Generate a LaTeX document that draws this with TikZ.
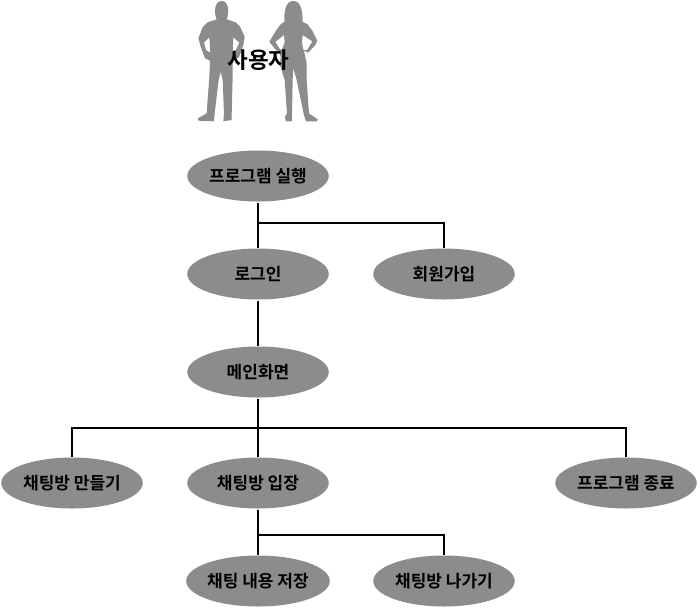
\documentclass[tikz,border=0pt]{standalone}
\usepackage{fontspec}
\setmainfont{Noto Sans CJK KR}[BoldFont={Noto Sans CJK KR Bold}]
\usetikzlibrary{shapes.geometric}
\definecolor{gr}{HTML}{8C8C8C}
\tikzset{
 item/.style={ellipse,fill=gr,draw=none,minimum width=141.5pt,minimum height=51pt,inner sep=0pt,outer sep=1pt,font=\bfseries\fontsize{17}{18}\selectfont,text=black},
 conn/.style={draw=black,line width=1.7pt},
 person/.style={fill=gr,draw=none,even odd rule}
}
\begin{document}
\begin{tikzpicture}[x=1pt,y=-1pt]
\useasboundingbox (0,0) rectangle (698,608);
\begin{scope}[shift={(180,0)},xscale=0.3333,yscale=0.3333]
% man
\fill[person] (110,58) .. controls (102,40) and (102,3) .. (125,3) .. controls (148,3) and (148,40) .. (140,58)
 -- (167,67) -- (180,80) -- (194,110) -- (190,135) -- (177,172) -- (158,180) -- (158,230) -- (155,345) -- (155,360) -- (130,364) -- (132,340) -- (128,240) -- (122,215) -- (116,240) -- (104,340) -- (102,364) -- (54,362) -- (54,355) -- (80,340) -- (88,230) -- (90,182) -- (75,175) -- (62,140) -- (55,115) -- (68,82) -- (83,67) -- cycle
 (88,112) -- (72,128) -- (78,150) -- (91,158) -- cycle
 (160,112) -- (178,128) -- (168,150) -- (158,156) -- cycle;
% woman
\fill[person] (340,3) .. controls (362,3) and (368,30) .. (368,66)
 -- (382,72) -- (397,92) -- (412,122) -- (406,135) -- (385,158) -- (372,152) -- (380,190) -- (380,240) -- (387,340) -- (413,358) -- (411,364) -- (378,364) -- (372,345) -- (350,240) -- (340,205) -- (338,240) -- (336,345) -- (336,364) -- (317,364) -- (315,350) -- (321,340) -- (314,240) -- (300,195) -- (302,170) -- (298,158) -- (286,148) -- (268,125) -- (288,92) -- (303,72) -- (313,66) .. controls (312,30) and (318,3) .. (340,3) -- cycle
 (312,105) -- (286,126) -- (300,148) -- (306,148) -- (314,128) -- cycle
 (368,105) -- (397,124) -- (382,150) -- (370,150) -- (366,128) -- cycle;
\end{scope}
\node[font=\bfseries\fontsize{22.5}{24}\selectfont] (user) at (258.5,60.5) {사용자};
\node[item] (run) at (258,176) {프로그램 실행};
\node[item] (login) at (258,274) {로그인};
\node[item] (join) at (444,274) {회원가입};
\node[item] (main) at (258,372) {메인화면};
\node[item] (make) at (72,483) {채팅방 만들기};
\node[item] (enter) at (258,483) {채팅방 입장};
\node[item] (quit) at (626,483) {프로그램 종료};
\node[item] (save) at (258,581) {채팅 내용 저장};
\node[item] (leave) at (444,581) {채팅방 나가기};
\coordinate (b1) at (258,223);
\coordinate (b2) at (258,428);
\coordinate (b3) at (258,535);
\draw[conn] (run) -- (login);
\draw[conn] (b1) -| (join);
\draw[conn] (login) -- (main);
\draw[conn] (main) -- (enter);
\draw[conn] (b2) -| (make);
\draw[conn] (b2) -| (quit);
\draw[conn] (enter) -- (save);
\draw[conn] (b3) -| (leave);
\end{tikzpicture}
\end{document}
